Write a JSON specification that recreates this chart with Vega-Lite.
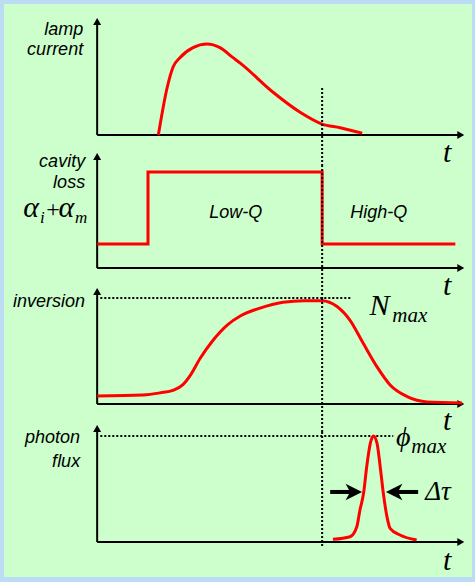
{
  "$schema": "https://vega.github.io/schema/vega-lite/v6.json",
  "description": "Q-switching timing diagram: lamp current, cavity loss, population inversion and photon flux against time.",
  "background": "#BCDBF4",
  "padding": {"left": 4, "top": 4, "right": 3, "bottom": 5},
  "bounds": "flush",
  "spacing": 0,
  "resolve": {"scale": {"y": "independent"}},
  "config": {
    "view": {"stroke": null, "fill": "#CCFFCC"},
    "axis": {"disable": true},
    "text": {"color": "#000000"}
  },
  "datasets": {
    "lampCurrent": [
      {"t": 1.36, "current": 0}, {"t": 1.56, "current": 0.53}, {"t": 1.69, "current": 0.75},
      {"t": 1.84, "current": 0.85}, {"t": 2.13, "current": 0.96}, {"t": 2.44, "current": 1.0},
      {"t": 2.73, "current": 0.96}, {"t": 3.02, "current": 0.85}, {"t": 3.18, "current": 0.79},
      {"t": 3.91, "current": 0.47}, {"t": 4.51, "current": 0.25}, {"t": 5.0, "current": 0.12},
      {"t": 5.4, "current": 0.08}, {"t": 5.89, "current": 0.02}
    ],
    "cavityLoss": [
      {"t": 0, "loss": 1}, {"t": 1.13, "loss": 4}, {"t": 5.0, "loss": 1}, {"t": 7.96, "loss": 1}
    ],
    "inversion": [
      {"t": 0, "n": 0.075}, {"t": 1.02, "n": 0.085}, {"t": 1.4, "n": 0.105}, {"t": 1.7, "n": 0.13},
      {"t": 1.9, "n": 0.18}, {"t": 2.07, "n": 0.27}, {"t": 2.29, "n": 0.431}, {"t": 2.58, "n": 0.604},
      {"t": 2.89, "n": 0.745}, {"t": 3.18, "n": 0.83}, {"t": 3.62, "n": 0.905}, {"t": 4.13, "n": 0.96},
      {"t": 4.6, "n": 0.975}, {"t": 5.0, "n": 0.975}, {"t": 5.33, "n": 0.92}, {"t": 5.62, "n": 0.79},
      {"t": 5.91, "n": 0.575}, {"t": 6.22, "n": 0.35}, {"t": 6.51, "n": 0.18}, {"t": 6.89, "n": 0.07},
      {"t": 7.33, "n": 0.02}, {"t": 8.11, "n": 0.01}
    ],
    "photonFlux": [
      {"t": 5.24, "phi": 0.025}, {"t": 5.62, "phi": 0.05}, {"t": 5.77, "phi": 0.144}, {"t": 5.84, "phi": 0.302},
      {"t": 5.92, "phi": 0.459}, {"t": 5.99, "phi": 0.71}, {"t": 6.07, "phi": 0.931}, {"t": 6.14, "phi": 1.0},
      {"t": 6.22, "phi": 0.931}, {"t": 6.29, "phi": 0.71}, {"t": 6.36, "phi": 0.459}, {"t": 6.44, "phi": 0.239},
      {"t": 6.51, "phi": 0.129}, {"t": 6.73, "phi": 0.066}, {"t": 7.1, "phi": 0.019}
    ]
  },
  "vconcat": [
    {
      "width": 468,
      "height": 161,
      "encoding": {
        "x": {"field": "t", "type": "quantitative", "scale": {"domain": [-2.07, 8.33], "nice": false, "zero": false}, "axis": null},
        "y": {"field": "v", "type": "quantitative", "scale": {"domain": [-0.33, 1.44], "nice": false, "zero": false}, "axis": null}
      },
      "layer": [
        {
          "data": {"values": [{"t": 0, "v": 0, "tEnd": 8.08, "vEnd": 1.247}]},
          "layer": [
            {"mark": {"type": "rule", "strokeWidth": 2, "color": "#000000"}, "encoding": {"x2": {"field": "tEnd"}}},
            {"mark": {"type": "rule", "strokeWidth": 2, "color": "#000000"}, "encoding": {"y2": {"field": "vEnd"}}},
            {"mark": {"type": "point", "shape": "triangle-right", "filled": true, "size": 64, "color": "#000000", "opacity": 1}, "encoding": {"x": {"field": "tEnd", "type": "quantitative"}}},
            {"mark": {"type": "point", "shape": "triangle-up", "filled": true, "size": 64, "color": "#000000", "opacity": 1}, "encoding": {"y": {"field": "vEnd", "type": "quantitative"}}}
          ]
        },
        {
          "data": {"name": "lampCurrent"},
          "mark": {"type": "line", "color": "#FF0000", "strokeWidth": 3, "interpolate": "monotone"},
          "encoding": {"y": {"field": "current", "type": "quantitative"}}
        },
        {
          "data": {"values": [{"t": 5.0, "v": 0.516, "vEnd": -0.33}]},
          "mark": {"type": "rule", "strokeWidth": 2, "strokeDash": [2, 2], "color": "#000000"},
          "encoding": {"y2": {"field": "vEnd"}}
        },
        {
          "data": {"values": [{"t": -0.311, "v": 1.099, "label": "lamp"}, {"t": -0.311, "v": 0.879, "label": "current"}]},
          "mark": {"type": "text", "align": "right", "baseline": "alphabetic", "font": "Liberation Sans", "fontStyle": "italic", "fontSize": 18},
          "encoding": {"text": {"field": "label", "type": "nominal"}}
        },
        {
          "data": {"values": [{"t": 7.78, "v": -0.297, "label": "t"}]},
          "mark": {"type": "text", "align": "center", "baseline": "alphabetic", "font": "Liberation Serif", "fontStyle": "italic", "fontSize": 30},
          "encoding": {"text": {"field": "label", "type": "nominal"}}
        }
      ]
    },
    {
      "width": 468,
      "height": 133,
      "encoding": {
        "x": {"field": "t", "type": "quantitative", "scale": {"domain": [-2.07, 8.33], "nice": false, "zero": false}, "axis": null},
        "y": {"field": "v", "type": "quantitative", "scale": {"domain": [-1.25, 4.2917], "nice": false, "zero": false}, "axis": null}
      },
      "layer": [
        {
          "data": {"values": [{"t": 0, "v": 0, "tEnd": 8.08, "vEnd": 4.646}]},
          "layer": [
            {"mark": {"type": "rule", "strokeWidth": 2, "color": "#000000"}, "encoding": {"x2": {"field": "tEnd"}}},
            {"mark": {"type": "rule", "strokeWidth": 2, "color": "#000000"}, "encoding": {"y2": {"field": "vEnd"}}},
            {"mark": {"type": "point", "shape": "triangle-right", "filled": true, "size": 64, "color": "#000000", "opacity": 1}, "encoding": {"x": {"field": "tEnd", "type": "quantitative"}}},
            {"mark": {"type": "point", "shape": "triangle-up", "filled": true, "size": 64, "color": "#000000", "opacity": 1}, "encoding": {"y": {"field": "vEnd", "type": "quantitative"}}}
          ]
        },
        {
          "data": {"name": "cavityLoss"},
          "mark": {"type": "line", "color": "#FF0000", "strokeWidth": 3, "interpolate": "step-after"},
          "encoding": {"y": {"field": "loss", "type": "quantitative"}}
        },
        {
          "data": {"values": [{"t": 5.0}]},
          "mark": {"type": "rule", "strokeWidth": 2, "strokeDash": [2, 2], "color": "#000000"},
          "encoding": {"y": null}
        },
        {
          "data": {"values": [{"t": -0.267, "v": 4.196, "label": "cavity"}, {"t": -0.267, "v": 3.32, "label": "loss"}]},
          "mark": {"type": "text", "align": "right", "baseline": "alphabetic", "font": "Liberation Sans", "fontStyle": "italic", "fontSize": 18},
          "encoding": {"text": {"field": "label", "type": "nominal"}}
        },
        {
          "data": {"values": [{"t": 3.08, "v": 2.083, "label": "Low-Q"}, {"t": 6.26, "v": 2.083, "label": "High-Q"}]},
          "mark": {"type": "text", "align": "center", "baseline": "alphabetic", "font": "Liberation Sans", "fontStyle": "italic", "fontSize": 18},
          "encoding": {"text": {"field": "label", "type": "nominal"}}
        },
        {
          "data": {"values": [{"t": -1.64, "v": 2.125, "label": "α"}, {"t": -0.86, "v": 2.125, "label": "α"}]},
          "mark": {"type": "text", "align": "left", "baseline": "alphabetic", "font": "Liberation Serif", "fontStyle": "italic", "fontSize": 30},
          "encoding": {"text": {"field": "label", "type": "nominal"}}
        },
        {
          "data": {"values": [{"t": -1.13, "v": 2.125, "label": "+"}]},
          "mark": {"type": "text", "align": "left", "baseline": "alphabetic", "font": "Liberation Serif", "fontSize": 24},
          "encoding": {"text": {"field": "label", "type": "nominal"}}
        },
        {
          "data": {"values": [{"t": -1.27, "v": 1.875, "label": "i"}, {"t": -0.49, "v": 1.875, "label": "m"}]},
          "mark": {"type": "text", "align": "left", "baseline": "alphabetic", "font": "Liberation Serif", "fontStyle": "italic", "fontSize": 17},
          "encoding": {"text": {"field": "label", "type": "nominal"}}
        },
        {
          "data": {"values": [{"t": 7.78, "v": -1.125, "label": "t"}]},
          "mark": {"type": "text", "align": "center", "baseline": "alphabetic", "font": "Liberation Serif", "fontStyle": "italic", "fontSize": 30},
          "encoding": {"text": {"field": "label", "type": "nominal"}}
        }
      ]
    },
    {
      "width": 468,
      "height": 134,
      "encoding": {
        "x": {"field": "t", "type": "quantitative", "scale": {"domain": [-2.07, 8.33], "nice": false, "zero": false}, "axis": null},
        "y": {"field": "v", "type": "quantitative", "scale": {"domain": [-0.2642, 1.0], "nice": false, "zero": false}, "axis": null}
      },
      "layer": [
        {
          "data": {"values": [{"t": 0, "v": 0, "tEnd": 8.08, "vEnd": 1.061}]},
          "layer": [
            {"mark": {"type": "rule", "strokeWidth": 2, "color": "#000000"}, "encoding": {"x2": {"field": "tEnd"}}},
            {"mark": {"type": "rule", "strokeWidth": 2, "color": "#000000"}, "encoding": {"y2": {"field": "vEnd"}}},
            {"mark": {"type": "point", "shape": "triangle-right", "filled": true, "size": 64, "color": "#000000", "opacity": 1}, "encoding": {"x": {"field": "tEnd", "type": "quantitative"}}},
            {"mark": {"type": "point", "shape": "triangle-up", "filled": true, "size": 64, "color": "#000000", "opacity": 1}, "encoding": {"y": {"field": "vEnd", "type": "quantitative"}}}
          ]
        },
        {
          "data": {"name": "inversion"},
          "mark": {"type": "line", "color": "#FF0000", "strokeWidth": 3, "interpolate": "monotone"},
          "encoding": {"y": {"field": "n", "type": "quantitative"}}
        },
        {
          "data": {"values": [{"t": 0.07, "v": 1.0, "tEnd": 5.67}]},
          "mark": {"type": "rule", "strokeWidth": 2, "strokeDash": [2, 2], "color": "#000000"},
          "encoding": {"x2": {"field": "tEnd"}}
        },
        {
          "data": {"values": [{"t": 5.0}]},
          "mark": {"type": "rule", "strokeWidth": 2, "strokeDash": [2, 2], "color": "#000000"},
          "encoding": {"y": null}
        },
        {
          "data": {"values": [{"t": -0.267, "v": 0.912, "label": "inversion"}]},
          "mark": {"type": "text", "align": "right", "baseline": "alphabetic", "font": "Liberation Sans", "fontStyle": "italic", "fontSize": 18},
          "encoding": {"text": {"field": "label", "type": "nominal"}}
        },
        {
          "data": {"values": [{"t": 6.05, "v": 0.84, "label": "N"}]},
          "mark": {"type": "text", "align": "left", "baseline": "alphabetic", "font": "Liberation Serif", "fontStyle": "italic", "fontSize": 30},
          "encoding": {"text": {"field": "label", "type": "nominal"}}
        },
        {
          "data": {"values": [{"t": 6.56, "v": 0.774, "label": "max"}]},
          "mark": {"type": "text", "align": "left", "baseline": "alphabetic", "font": "Liberation Serif", "fontStyle": "italic", "fontSize": 21},
          "encoding": {"text": {"field": "label", "type": "nominal"}}
        },
        {
          "data": {"values": [{"t": 7.78, "v": -0.245, "label": "t"}]},
          "mark": {"type": "text", "align": "center", "baseline": "alphabetic", "font": "Liberation Serif", "fontStyle": "italic", "fontSize": 30},
          "encoding": {"text": {"field": "label", "type": "nominal"}}
        }
      ]
    },
    {
      "width": 468,
      "height": 145,
      "encoding": {
        "x": {"field": "t", "type": "quantitative", "scale": {"domain": [-2.07, 8.33], "nice": false, "zero": false}, "axis": null},
        "y": {"field": "v", "type": "quantitative", "scale": {"domain": [-0.3302, 1.0377], "nice": false, "zero": false}, "axis": null}
      },
      "layer": [
        {
          "data": {"values": [{"t": 0, "v": 0, "tEnd": 8.08, "vEnd": 1.071}]},
          "layer": [
            {"mark": {"type": "rule", "strokeWidth": 2, "color": "#000000"}, "encoding": {"x2": {"field": "tEnd"}}},
            {"mark": {"type": "rule", "strokeWidth": 2, "color": "#000000"}, "encoding": {"y2": {"field": "vEnd"}}},
            {"mark": {"type": "point", "shape": "triangle-right", "filled": true, "size": 64, "color": "#000000", "opacity": 1}, "encoding": {"x": {"field": "tEnd", "type": "quantitative"}}},
            {"mark": {"type": "point", "shape": "triangle-up", "filled": true, "size": 64, "color": "#000000", "opacity": 1}, "encoding": {"y": {"field": "vEnd", "type": "quantitative"}}}
          ]
        },
        {
          "data": {"values": [{"t": 0.07, "v": 1.0, "tEnd": 6.58}]},
          "mark": {"type": "rule", "strokeWidth": 2, "strokeDash": [2, 2], "color": "#000000"},
          "encoding": {"x2": {"field": "tEnd"}}
        },
        {
          "data": {"values": [{"t": 5.0, "v": 1.0377, "vEnd": -0.047}]},
          "mark": {"type": "rule", "strokeWidth": 2, "strokeDash": [2, 2], "color": "#000000"},
          "encoding": {"y2": {"field": "vEnd"}}
        },
        {
          "data": {"name": "photonFlux"},
          "mark": {"type": "line", "color": "#FF0000", "strokeWidth": 3, "interpolate": "monotone"},
          "encoding": {"y": {"field": "phi", "type": "quantitative"}}
        },
        {
          "data": {"values": [{"t": 5.178, "v": 0.472, "tEnd": 5.64}, {"t": 6.66, "v": 0.472, "tEnd": 7.133}]},
          "mark": {"type": "rule", "strokeWidth": 4, "color": "#000000"},
          "encoding": {"x2": {"field": "tEnd"}}
        },
        {
          "data": {"values": [{"t": 5.704, "v": 0.472}]},
          "mark": {"type": "point", "shape": "M1,0L-1,-1L-0.45,0L-1,1Z", "filled": true, "size": 272, "color": "#000000", "opacity": 1}
        },
        {
          "data": {"values": [{"t": 6.6, "v": 0.472}]},
          "mark": {"type": "point", "shape": "M-1,0L1,-1L0.45,0L1,1Z", "filled": true, "size": 272, "color": "#000000", "opacity": 1}
        },
        {
          "data": {"values": [{"t": -0.378, "v": 0.931, "label": "photon"}, {"t": -0.378, "v": 0.71, "label": "flux"}]},
          "mark": {"type": "text", "align": "right", "baseline": "alphabetic", "font": "Liberation Sans", "fontStyle": "italic", "fontSize": 18},
          "encoding": {"text": {"field": "label", "type": "nominal"}}
        },
        {
          "data": {"values": [{"t": 6.64, "v": 0.906, "label": "ϕ"}]},
          "mark": {"type": "text", "align": "left", "baseline": "alphabetic", "font": "Liberation Serif", "fontStyle": "italic", "fontSize": 28},
          "encoding": {"text": {"field": "label", "type": "nominal"}}
        },
        {
          "data": {"values": [{"t": 6.98, "v": 0.84, "label": "max"}]},
          "mark": {"type": "text", "align": "left", "baseline": "alphabetic", "font": "Liberation Serif", "fontStyle": "italic", "fontSize": 21},
          "encoding": {"text": {"field": "label", "type": "nominal"}}
        },
        {
          "data": {"values": [{"t": 7.29, "v": 0.396, "label": "Δτ"}]},
          "mark": {"type": "text", "align": "left", "baseline": "alphabetic", "font": "Liberation Serif", "fontStyle": "italic", "fontSize": 27},
          "encoding": {"text": {"field": "label", "type": "nominal"}}
        },
        {
          "data": {"values": [{"t": 7.78, "v": -0.264, "label": "t"}]},
          "mark": {"type": "text", "align": "center", "baseline": "alphabetic", "font": "Liberation Serif", "fontStyle": "italic", "fontSize": 30},
          "encoding": {"text": {"field": "label", "type": "nominal"}}
        }
      ]
    }
  ]
}
